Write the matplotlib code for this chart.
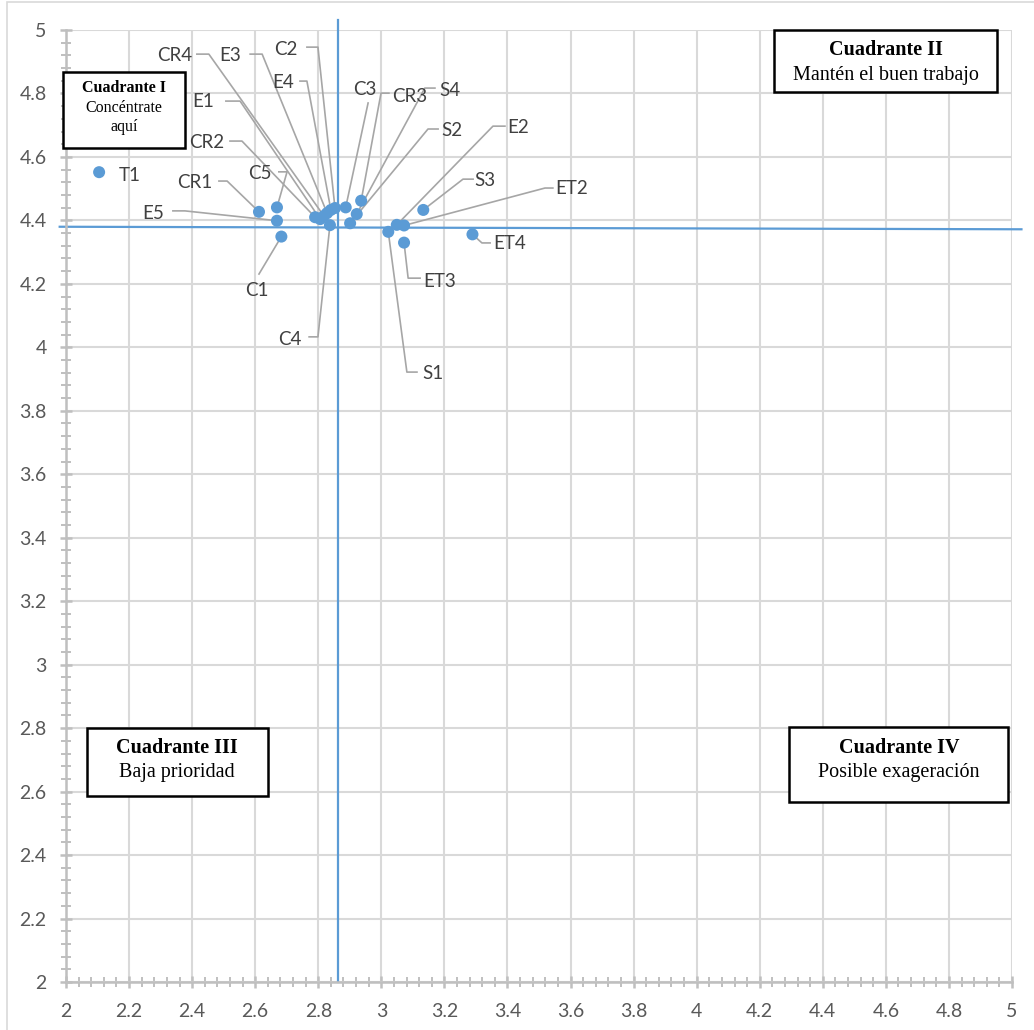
import matplotlib
matplotlib.use("Agg")
import matplotlib.pyplot as plt
from matplotlib.patches import Rectangle
from matplotlib.ticker import MultipleLocator, FuncFormatter

# Item scores: x = importance / performance axis, y = second axis
items = ["T1", "CR1", "C5", "E5", "C1", "CR2", "E1", "CR4", "E3", "E4", "C2",
         "C4", "C3", "S2", "S4", "CR3", "S1", "E2", "ET2", "ET3", "S3", "ET4"]
x_vals = [2.105, 2.612, 2.669, 2.669, 2.683, 2.790, 2.806, 2.818, 2.828, 2.840, 2.853,
          2.837, 2.887, 2.901, 2.922, 2.936, 3.022, 3.049, 3.072, 3.072, 3.133, 3.289]
y_vals = [4.552, 4.427, 4.441, 4.399, 4.349, 4.410, 4.404, 4.414, 4.423, 4.433, 4.439,
          4.385, 4.441, 4.391, 4.420, 4.462, 4.364, 4.386, 4.384, 4.330, 4.433, 4.356]

# Mean reference lines (the horizontal one is drawn slightly tilted)
x_mean = 2.8636
y_mean_left, y_mean_right = 4.380, 4.372

quadrant_titles = ["Cuadrante I", "Cuadrante II", "Cuadrante III", "Cuadrante IV"]
quadrant_texts = ["Concéntrate\naquí", "Mantén el buen trabajo", "Baja prioridad", "Posible exageración"]

# Label placement: text centre and leader-line bends (data units)
label_layout = {
    "T1":  ((2.203, 4.540), []),
    "CR4": ((2.346, 4.921), [(2.453, 4.924), (2.415, 4.924)]),
    "E3":  ((2.520, 4.921), [(2.622, 4.924), (2.584, 4.924)]),
    "C2":  ((2.698, 4.940), [(2.799, 4.946), (2.764, 4.946)]),
    "E4":  ((2.688, 4.836), [(2.764, 4.839), (2.742, 4.839)]),
    "E1":  ((2.434, 4.776), [(2.552, 4.776), (2.507, 4.776)]),
    "CR2": ((2.447, 4.644), [(2.558, 4.650), (2.520, 4.650)]),
    "C5":  ((2.615, 4.549), [(2.701, 4.553), (2.675, 4.553)]),
    "CR1": ((2.409, 4.518), [(2.511, 4.524), (2.485, 4.524)]),
    "E5":  ((2.276, 4.423), [(2.377, 4.430), (2.339, 4.430)]),
    "C1":  ((2.606, 4.178), [(2.612, 4.231)]),
    "C4":  ((2.710, 4.026), [(2.799, 4.033), (2.771, 4.033)]),
    "C3":  ((2.948, 4.811), [(2.958, 4.770)]),
    "CR3": ((3.091, 4.792), [(2.999, 4.801), (3.024, 4.801)]),
    "S4":  ((3.218, 4.808), [(3.138, 4.817), (3.170, 4.817)]),
    "S2":  ((3.224, 4.682), [(3.148, 4.688), (3.180, 4.688)]),
    "E2":  ((3.433, 4.694), [(3.354, 4.697), (3.392, 4.697)]),
    "S3":  ((3.329, 4.527), [(3.259, 4.530), (3.291, 4.530)]),
    "ET2": ((3.605, 4.499), [(3.519, 4.502), (3.544, 4.502)]),
    "ET4": ((3.408, 4.326), [(3.319, 4.329), (3.345, 4.329)]),
    "ET3": ((3.186, 4.209), [(3.085, 4.218), (3.123, 4.218)]),
    "S1":  ((3.164, 3.916), [(3.081, 3.922), (3.113, 3.922)]),
}

SANS = ["Lato", "DejaVu Sans"]
SERIF = ["Liberation Serif", "DejaVu Serif"]
BLUE = "#5B9BD5"
GRID = "#D9D9D9"
AXIS = "#BFBFBF"

fig = plt.figure(figsize=(10.34, 10.30), dpi=100)
fig.patch.set_facecolor("white")
# chart-area border
fig.patches.append(Rectangle((7 / 1034, -0.05), 1.2, 1 + 0.05 - 2 / 1030,
                             transform=fig.transFigure, fill=False,
                             edgecolor="#D9D9D9", linewidth=1.2))

ax = fig.add_axes([66 / 1034, 48 / 1030, 946 / 1034, 952 / 1030])
ax.set_xlim(2, 5)
ax.set_ylim(2, 5)

ax.xaxis.set_major_locator(MultipleLocator(0.2))
ax.yaxis.set_major_locator(MultipleLocator(0.2))
ax.xaxis.set_minor_locator(MultipleLocator(0.04))
ax.yaxis.set_minor_locator(MultipleLocator(0.04))
fmt = FuncFormatter(lambda v, p: f"{v:.1f}".rstrip("0").rstrip("."))
ax.xaxis.set_major_formatter(fmt)
ax.yaxis.set_major_formatter(fmt)

ax.grid(True, which="major", color=GRID, linewidth=1.5, zorder=0)
ax.set_axisbelow(True)
for side in ("top", "right"):
    ax.spines[side].set_visible(False)
for side in ("left", "bottom"):
    ax.spines[side].set_color(AXIS)
    ax.spines[side].set_linewidth(1.8)

ax.tick_params(which="major", direction="inout", length=8, width=1.8, color=AXIS,
               labelsize=14, labelcolor="#595959")
ax.tick_params(which="minor", direction="inout", length=7, width=1.4, color=AXIS)
ax.tick_params(axis="x", which="major", pad=11)
ax.tick_params(axis="y", which="major", pad=10)
for lbl in ax.get_xticklabels() + ax.get_yticklabels():
    lbl.set_family(SANS)

# Mean lines
ax.plot([x_mean, x_mean], [2, 5.032], color=BLUE, linewidth=1.6, clip_on=False, zorder=2)
ax.plot([1.98, 5.03], [y_mean_left, y_mean_right], color=BLUE, linewidth=1.6,
        clip_on=False, zorder=2)

# Leader lines and labels
for name, xv, yv in zip(items, x_vals, y_vals):
    (tx, ty), bends = label_layout[name]
    if bends:
        xs = [xv] + [b[0] for b in bends]
        ys = [yv] + [b[1] for b in bends]
        ax.plot(xs, ys, color="#A6A6A6", linewidth=1.2, zorder=3)
    ax.text(tx, ty, name, ha="center", va="center", fontsize=13.5, color="#404040",
            family=SANS, zorder=5)

ax.scatter(x_vals, y_vals, s=75, color=BLUE, edgecolors="none", zorder=4)

# Quadrant boxes (axes fraction)
boxes = [
    ((-0.0035, 0.8764, 0.1293, 0.0798), 0.0612, (0.9391, 0.9181, 0.8981), 11.5),
    ((0.7484, 0.9352, 0.2361, 0.0648), 0.8665, (0.9790, 0.9527), 14.5),
    ((0.0219, 0.1957, 0.1913, 0.0714), 0.1175, (0.2458, 0.2200), 14.5),
    ((0.7646, 0.1894, 0.2315, 0.0781), 0.8803, (0.2458, 0.2200), 14.5),
]
for (title, body, (rect, cx, ys, fs)) in zip(quadrant_titles, quadrant_texts, boxes):
    x0, y0, w, h = rect
    ax.add_patch(Rectangle((x0, y0), w, h, transform=ax.transAxes, facecolor="white",
                           edgecolor="black", linewidth=1.8, zorder=6, clip_on=False))
    lines = [title] + body.split("\n")
    for i, (line, yy) in enumerate(zip(lines, ys)):
        ax.text(cx, yy, line, transform=ax.transAxes, ha="center", va="center",
                fontsize=fs, family=SERIF, fontweight="bold" if i == 0 else "normal",
                color="black", zorder=7)

fig.savefig("out.png", dpi=100, facecolor="white")
